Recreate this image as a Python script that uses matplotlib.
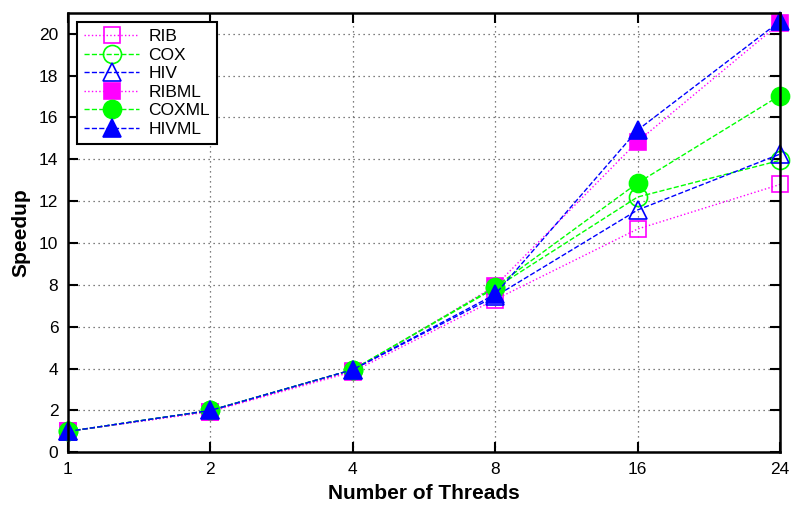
"""Speedup versus number of threads, gnuplot-style line chart."""

import matplotlib

matplotlib.use("Agg")
import matplotlib.pyplot as plt

threads = ["1", "2", "4", "8", "16", "24"]

rib = [1.0, 1.95, 3.85, 7.3, 10.67, 12.8]
cox = [1.0, 2.0, 3.95, 7.85, 12.2, 13.95]
hiv = [1.0, 2.0, 3.95, 7.45, 11.58, 14.25]
ribml = [1.0, 1.95, 3.9, 7.95, 14.85, 20.5]
coxml = [1.0, 2.0, 3.95, 7.9, 12.87, 17.05]
hivml = [1.0, 2.0, 3.95, 7.55, 15.4, 20.6]

plt.rcParams["font.family"] = ["Liberation Sans", "DejaVu Sans"]

series = [
    ("RIB", rib, "#ff00ff", ":", "s", "none", 12),
    ("COX", cox, "#00ff00", "--", "o", "none", 13),
    ("HIV", hiv, "#0000ff", "--", "^", "none", 13),
    ("RIBML", ribml, "#ff00ff", ":", "s", "#ff00ff", 12),
    ("COXML", coxml, "#00ff00", "--", "o", "#00ff00", 13),
    ("HIVML", hivml, "#0000ff", "--", "^", "#0000ff", 13),
]

fig, ax = plt.subplots(figsize=(8.0, 5.14), dpi=100)
fig.subplots_adjust(left=0.085, right=0.975, bottom=0.12, top=0.975)

xs = list(range(len(threads)))
for name, values, color, style, marker, face, size in series:
    ax.plot(
        xs,
        values,
        linestyle=style,
        color=color,
        linewidth=1.0,
        marker=marker,
        markersize=size,
        markerfacecolor=face,
        markeredgecolor=color,
        markeredgewidth=1.2,
        label=name,
        clip_on=False,
    )

ax.set_xlim(0, len(threads) - 1)
ax.set_ylim(0, 21)
ax.set_xticks(xs)
ax.set_xticklabels(threads)
ax.set_yticks(range(0, 21, 2))
ax.tick_params(direction="in", length=7, width=1.5, labelsize=12.5, top=True, right=True, pad=7)
ax.grid(True, linestyle=(0, (1, 3)), color="#555555", linewidth=0.9)
for spine in ax.spines.values():
    spine.set_linewidth(1.8)

ax.set_xlabel("Number of Threads", fontsize=15, fontweight="bold", labelpad=5)
ax.set_ylabel("Speedup", fontsize=15, fontweight="bold", labelpad=6)

legend = ax.legend(
    loc="upper left",
    bbox_to_anchor=(0.0126, 0.9795),
    borderaxespad=0.0,
    fancybox=False,
    framealpha=1.0,
    edgecolor="black",
    fontsize=12.5,
    handlelength=3.2,
    labelspacing=0.2,
    borderpad=0.4,
    handletextpad=0.5,
)
legend.get_frame().set_linewidth(1.5)

fig.savefig("out.png", dpi=100)
